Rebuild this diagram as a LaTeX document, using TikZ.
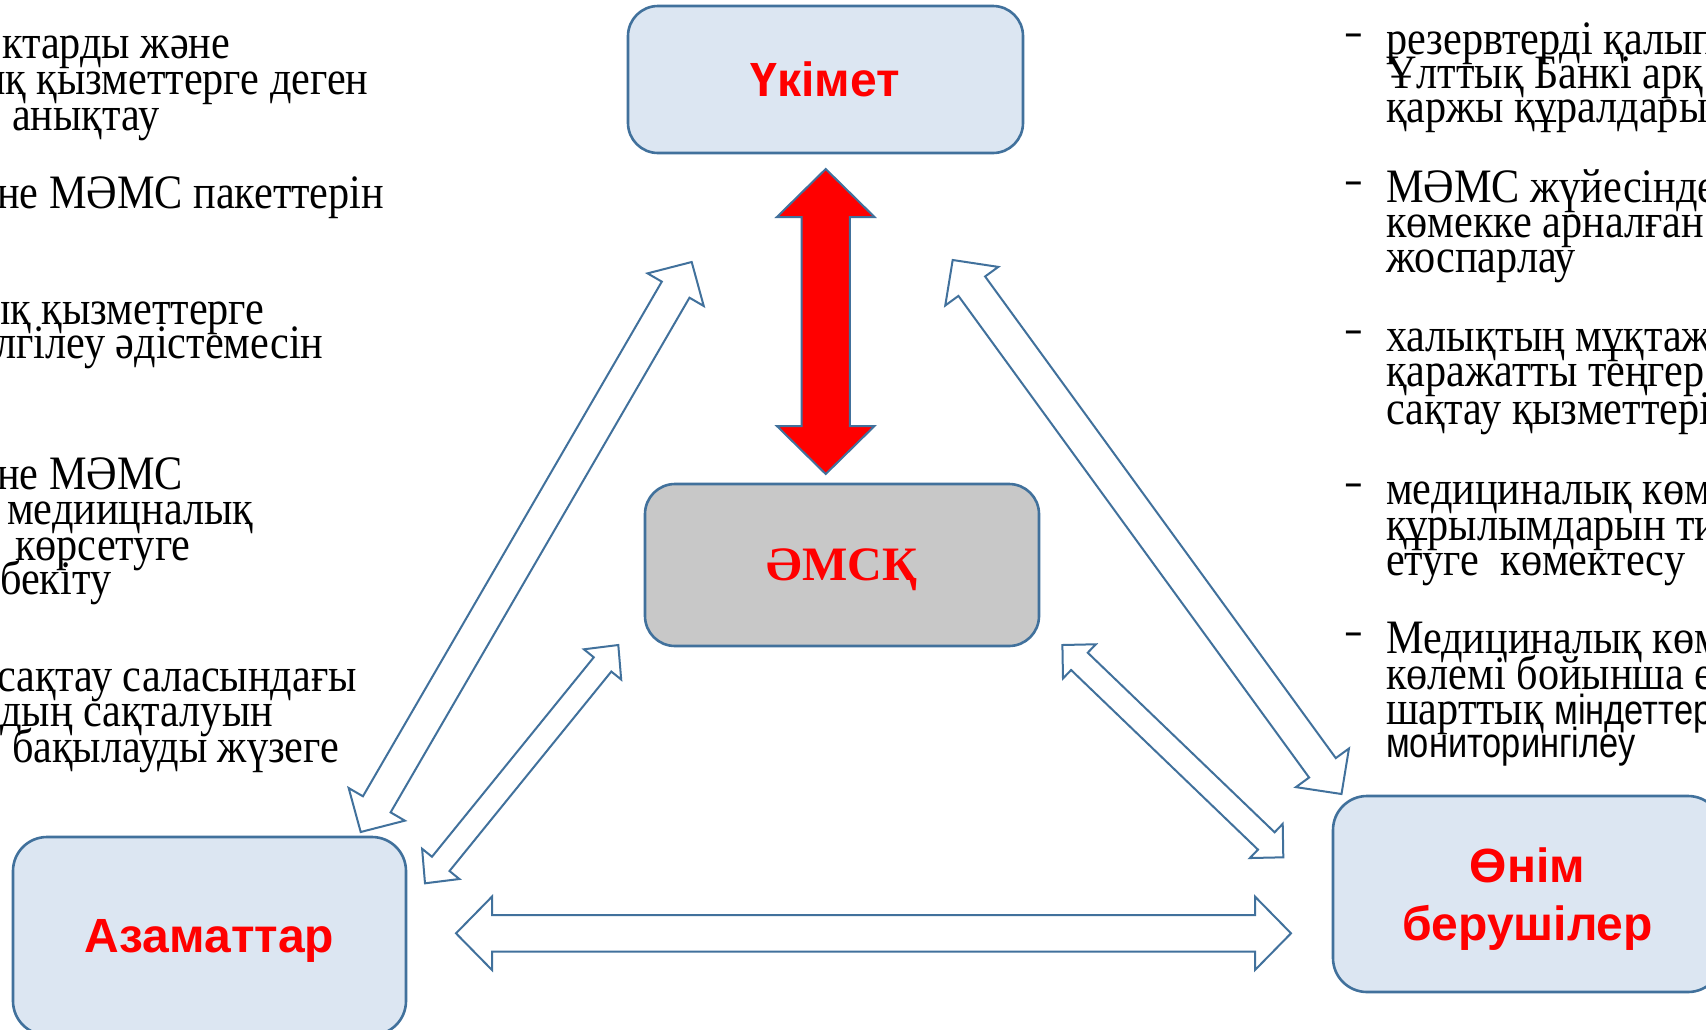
\documentclass[tikz,border=0pt]{standalone}
\usepackage{fontspec}
\setmainfont{Liberation Serif}
\newfontfamily\bodyfont[FakeStretch=0.88]{Liberation Serif}
\newfontfamily\narrowsans[FakeStretch=0.82]{Liberation Sans}
\newfontfamily\labelsans{Liberation Sans}
\usetikzlibrary{calc}
\definecolor{edgeblue}{RGB}{65,113,156}
\definecolor{boxblue}{RGB}{220,230,242}
\definecolor{boxgray}{RGB}{200,200,200}
\definecolor{labelred}{RGB}{255,0,0}
% #1 style, #2 start, #3 end, #4 shaft half width, #5 head half width, #6 head length
\newcommand\blockarrow[6]{%
  \coordinate (ba1) at ($(#2)!#6!(#3)$);
  \coordinate (ba2) at ($(#3)!#6!(#2)$);
  \draw[#1] (#2) -- ($(ba1)!#5!90:(#3)$) -- ($(ba1)!#4!90:(#3)$)
    -- ($(ba2)!#4!-90:(#2)$) -- ($(ba2)!#5!-90:(#2)$) -- (#3)
    -- ($(ba2)!#5!90:(#2)$) -- ($(ba2)!#4!90:(#2)$)
    -- ($(ba1)!#4!-90:(#3)$) -- ($(ba1)!#5!-90:(#3)$) -- cycle;
}
\begin{document}
\begin{tikzpicture}[x=1pt,y=-1pt,
  box/.style={draw=edgeblue, line width=2.6pt, rounded corners=30pt, fill=boxblue,
    inner sep=0pt, align=center, text=labelred, text depth=0pt},
  boxlabel/.style={font=\labelsans\bfseries\fontsize{48}{58}\selectfont},
  hollow/.style={draw=edgeblue, fill=white, line width=2pt, line join=miter},
  solidarrow/.style={draw=edgeblue, fill=labelred, line width=2pt, line join=miter},
  body/.style={font=\bodyfont\fontsize{48}{48}\selectfont, inner sep=0pt, anchor=base west, yshift=-3pt},
  bodysans/.style={font=\narrowsans\fontsize{42}{42}\selectfont, inner sep=0pt, anchor=base west, yshift=-3pt},
  dashmark/.style={font=\labelsans\bfseries\fontsize{30}{30}\selectfont, inner sep=0pt, anchor=base west},
]
\useasboundingbox (0,0) rectangle (1706,1029);
\fill[white] (0,0) rectangle (1706,1029);
\clip (0,0) rectangle (1706,1029);

% boxes
\node[box, boxlabel, minimum width=395pt, minimum height=147pt] (gov) at (825.5,79.5) {Үкімет};
\node[box, fill=boxgray, font=\rmfamily\bfseries\fontsize{48}{58}\selectfont,
      minimum width=394pt, minimum height=162pt] (fund) at (842,565) {ӘМСҚ};
\node[box, boxlabel, rounded corners=34pt, minimum width=393pt, minimum height=198pt] (cit) at (209.5,936) {Азаматтар};
\node[box, boxlabel, rounded corners=34pt, minimum width=389pt, minimum height=196pt] (prov) at (1527.5,894) {Өнім\\берушілер};

% arrows
\coordinate (uL) at (691.7,262); \coordinate (cL) at (360.7,832);
\blockarrow{hollow}{uL}{cL}{16pt}{32.5pt}{32pt}
\coordinate (uR) at (952.7,260); \coordinate (pR) at (1341.5,794);
\blockarrow{hollow}{uR}{pR}{16.5pt}{32.8pt}{32.4pt}
\coordinate (mL) at (618.3,645); \coordinate (cM) at (425,883.3);
\blockarrow{hollow}{mL}{cM}{11.3pt}{24pt}{25pt}
\coordinate (mR) at (1062.4,645); \coordinate (pM) at (1283.3,857.3);
\blockarrow{hollow}{mR}{pM}{12pt}{23.7pt}{23.6pt}
\coordinate (cH) at (456,933.3); \coordinate (pH) at (1291,933.3);
\blockarrow{hollow}{cH}{pH}{18.3pt}{36.7pt}{36pt}
\coordinate (gV) at (825.7,169); \coordinate (eV) at (825.7,474);
\blockarrow{solidarrow}{gV}{eV}{24.2pt}{48.8pt}{48pt}

% left text
\node[body] (l1) at (2,55) {ктарды және};
\node[body] (l2) at (-23,91) {ық қызметтерге деген};
\node[body] (l3) at (12,127) {анықтау};
\node[body] (l4) at (-3,205) {не МӘМС пакеттерін};
\node[body] (l5) at (-18,321) {ық қызметтерге};
\node[body] (l6) at (-5,355) {лгілеу әдістемесін};
\node[body] (l7) at (-3,486) {не МӘМС};
\node[body] (l8) at (7,521) {медиицналық};
\node[body] (l9) at (15,557) {көрсетуге};
\node[body] (l10) at (0,591) {бекіту};
\node[body] (l11) at (-3,688) {сақтау саласындағы};
\node[body] (l12) at (0,723) {дың сақталуын};
\node[body] (l13) at (12,759) {бақылауды жүзеге};

% right text
\node[dashmark] (d1) at (1345,43) {–};
\node[body] (r1) at (1386,51) {резервтерді қалып};
\node[body] (r2) at (1386,85) {Ұлттық Банкі арқ};
\node[body] (r3) at (1386,119) {қаржы құралдары};
\node[dashmark] (d2) at (1345,191) {–};
\node[body] (r4) at (1386,199) {МӘМС жүйесінде};
\node[body] (r5) at (1386,234) {көмекке арналған};
\node[body] (r6) at (1386,269) {жоспарлау};
\node[dashmark] (d3) at (1345,340) {–};
\node[body] (r7) at (1386,348) {халықтың мұқтаж};
\node[body] (r8) at (1386,383) {қаражатты теңгер};
\node[body] (r9) at (1386,421) {сақтау қызметтері};
\node[dashmark] (d4) at (1345,493) {–};
\node[body] (r10) at (1386,501) {медициналық көм};
\node[body] (r11) at (1386,537) {құрылымдарын ти};
\node[body] (r12) at (1386,572) {етуге~ көмектесу};
\node[dashmark] (d5) at (1345,642) {–};
\node[body] (r13) at (1386,650) {Медициналық көм};
\node[body] (r14) at (1386,686) {көлемі бойынша е};
\node[body] (r15) at (1386,721) {шарттық {\narrowsans\fontsize{42}{42}\selectfont міндеттер}};
\node[bodysans] (r16) at (1386,754) {мониторингілеу};
\end{tikzpicture}
\end{document}
